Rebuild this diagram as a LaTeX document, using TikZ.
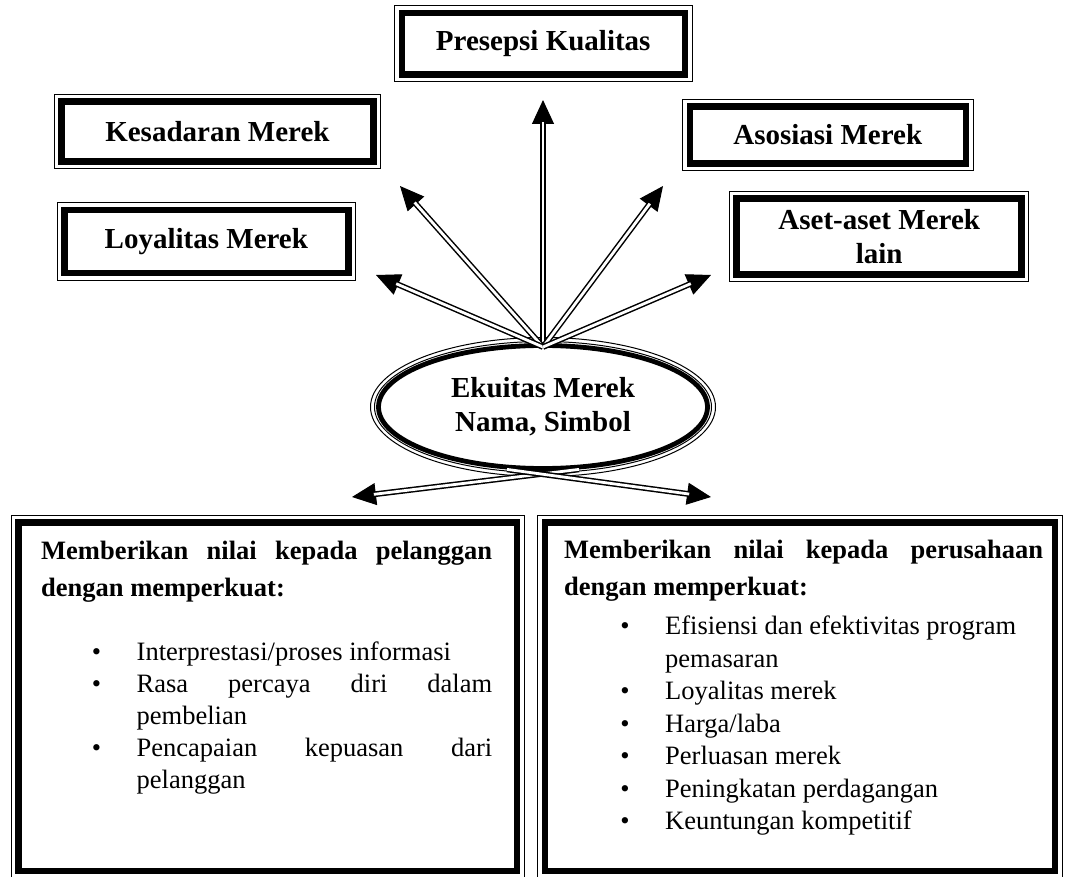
\documentclass[tikz,border=0pt]{standalone}
\usepackage{fontspec}
\setmainfont{Liberation Serif}
\usetikzlibrary{arrows.meta,shapes.geometric}
\tikzset{
  kotak/.style={draw,line width=6.5pt,inner sep=0pt,align=center,
    font=\fontsize{29}{34}\selectfont\bfseries},
  bingkai/.style={line width=1pt},
  kepala/.style={line width=1pt,-{Triangle[length=24pt,width=22pt]}},
  batang/.style={double,double distance=2.8pt,line width=1.5pt,shorten >=22pt}
}
\newcommand{\butir}[1]{\par\noindent\llap{\textbullet\hspace{35.5pt}}#1}
\begin{document}
\begin{tikzpicture}[x=1pt,y=-1pt]
      \useasboundingbox (0,0) rectangle (1071,877);
      \path
        (543.25,44) node[kotak,minimum width=283pt,minimum height=61.5pt] (presepsi){Presepsi Kualitas}
        (217.4,131.7) node[kotak,minimum width=312pt,minimum height=60pt] (kesadaran){Kesadaran Merek}
        (827.75,135) node[kotak,minimum width=276pt,minimum height=57pt] (asosiasi){Asosiasi Merek}
        (206.35,241.35) node[kotak,minimum width=284pt,minimum height=63pt] (loyalitas){Loyalitas Merek}
        (879.2,236.5) node[kotak,minimum width=285pt,minimum height=76pt] (aset){Aset-aset Merek\\lain}
        (267.5,696.5) node[kotak,minimum width=498.5pt,minimum height=348.5pt] (kiri){}
        (799.85,696.5) node[kotak,minimum width=510pt,minimum height=348.5pt] (kanan){};
      \foreach \k in {presepsi,kesadaran,asosiasi,loyalitas,aset,kiri,kanan}
        \draw[bingkai] ([shift={(-4pt,4pt)}]\k.north west) rectangle ([shift={(4pt,-4pt)}]\k.south east);
      \node[anchor=base west,inner sep=0pt] (teksKiri) at (41,559) {\parbox[t]{451pt}{%
        \hyphenpenalty=10000 \tolerance=9999
        {\bfseries\fontsize{26.5}{37}\selectfont Memberikan nilai kepada pelanggan dengan memperkuat:\par}
        \vspace{33pt}
        {\fontsize{26.5}{31.8}\selectfont \leftskip=95.5pt
        \butir{Interprestasi/proses informasi}
        \butir{Rasa percaya diri dalam pembelian}
        \butir{Pencapaian kepuasan dari pelanggan}\par}}};
      \node[anchor=base west,inner sep=0pt] (teksKanan) at (564,558) {\parbox[t]{479pt}{%
        \hyphenpenalty=10000 \tolerance=9999
        {\bfseries\fontsize{26.5}{37}\selectfont Memberikan nilai kepada perusahaan dengan memperkuat:\par}
        \vspace{7pt}
        {\raggedright\fontsize{26.5}{32.5}\selectfont \leftskip=101pt
        \butir{Efisiensi dan efektivitas program pemasaran}
        \butir{Loyalitas merek}
        \butir{Harga/laba}
        \butir{Perluasan merek}
        \butir{Peningkatan perdagangan}
        \butir{Keuntungan kompetitif}\par}}};
      \node[ellipse,draw,line width=4.8pt,minimum width=329pt,minimum height=123pt,inner sep=0pt,
        align=center,font=\fontsize{29}{34}\selectfont\bfseries] (ekuitas) at (543,407) {Ekuitas Merek\\Nama, Simbol};
      \draw[bingkai] (ekuitas.center) ellipse [x radius=172.5pt, y radius=69.5pt];
      \draw[bingkai] (ekuitas.center) ellipse [x radius=168.5pt, y radius=65.5pt];
      \coordinate (pusat) at (543,347);
      \coordinate (atas) at (543,100);
      \coordinate (kiriatas) at (400,186);
      \coordinate (kananatas) at (663,186);
      \coordinate (kiribawah) at (376,275);
      \coordinate (kananbawah) at (711,275);
      \coordinate (kirijauh) at (352,497);
      \coordinate (kananjauh) at (711,497);
      \begin{scope}
        \foreach \u in {atas,kiriatas,kananatas,kiribawah,kananbawah} {
          \draw[kepala] (pusat) to (\u);
          \draw[batang] (pusat) to (\u);
        }
        \draw[kepala] (ekuitas.-60) to (kirijauh);
        \draw[batang] (ekuitas.-60) to (kirijauh);
        \draw[kepala] (ekuitas.-120) to (kananjauh);
        \draw[batang] (ekuitas.-120) to (kananjauh);
      \end{scope}
    \end{tikzpicture}
\end{document}
